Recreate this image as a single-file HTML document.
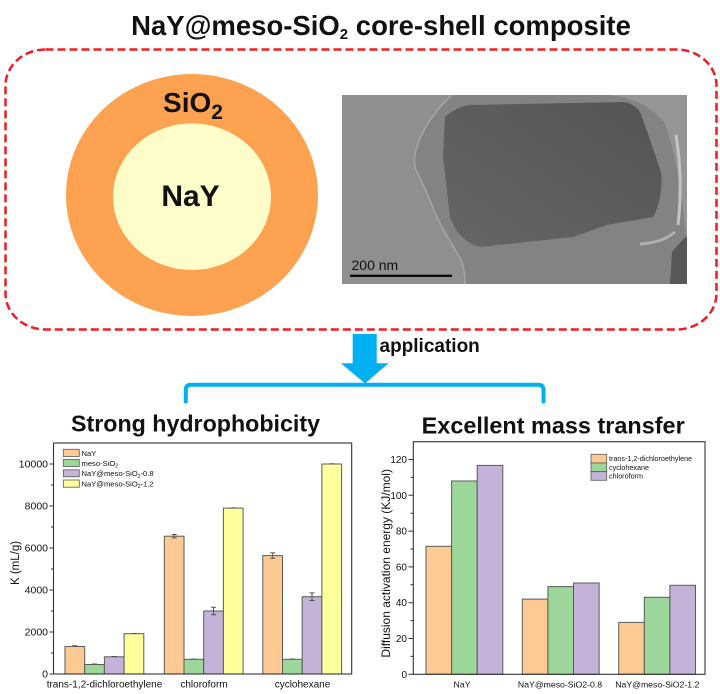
<!DOCTYPE html>
<html><head><meta charset="utf-8"><style>
html,body{margin:0;padding:0;background:#fff;}
svg{display:block;}
text{font-family:"Liberation Sans",Arial,sans-serif;fill:#111;}
</style></head><body>
<svg width="720" height="694" viewBox="0 0 720 694" xmlns="http://www.w3.org/2000/svg">
<defs>
<clipPath id="tc"><rect x="342" y="95" width="345" height="189"/></clipPath>
<linearGradient id="cg" x1="0" y1="1" x2="1" y2="0">
<stop offset="0" stop-color="#666"/><stop offset="1" stop-color="#545454"/>
</linearGradient>
</defs>
<rect width="720" height="694" fill="#fff"/>

<!-- Title -->
<text x="381" y="35" font-size="27.5" font-weight="bold" text-anchor="middle">NaY@meso-SiO<tspan font-size="15" dy="4">2</tspan><tspan dy="-4"> core-shell composite</tspan></text>

<!-- dashed frame -->
<rect x="5.5" y="49.5" width="711" height="280" rx="40" ry="36" fill="none" stroke="#ee1c24" stroke-width="2.5" stroke-dasharray="8 4"/>

<!-- core-shell -->
<ellipse cx="192" cy="195" rx="126" ry="121" fill="#fca251"/>
<ellipse cx="192" cy="196.7" rx="79" ry="73.3" fill="#fefdc9"/>
<text x="193" y="112" font-size="28" font-weight="bold" text-anchor="middle">SiO<tspan font-size="21" dy="7">2</tspan></text>
<text x="190.5" y="206" font-size="30" font-weight="bold" text-anchor="middle">NaY</text>

<!-- TEM -->
<g clip-path="url(#tc)">
<rect x="342" y="95" width="345" height="189" fill="#8f8f8f"/>
<path d="M452,95 C444,102 432,115 423,132 C416,146 412,160 416,170 C422,182 428,195 433,208 C440,226 452,244 460,258 C464,266 465,275 465,284 L687,284 L687,95 Z" fill="#838383"/>
<path d="M610,95 L687,95 L687,245 C683,200 676,150 664,122 C650,105 632,98 610,95 Z" fill="#959595"/>
<path d="M445,117 C455,108 465,105 473,105 L623,102 C632,103 638,108 641,114 L661,172 C663,190 658,210 653,217 L607,225 L573,237 L480,247 C465,243 455,232 450,217 L443,157 Z" fill="url(#cg)"/>
<path d="M676,135 C680,160 682,190 678,225" fill="none" stroke="#c4c4c4" stroke-width="3"/>
<path d="M640,244 C655,243 665,240 675,232" fill="none" stroke="#b0b0b0" stroke-width="3"/>
<path d="M672,252 C677,246 682,240 687,236 L687,284 L670,284 Z" fill="#585858"/>
<path d="M452,95 C444,102 432,115 423,132 C416,146 412,160 416,170 C422,182 428,195 433,208 C440,226 452,244 460,258 C464,266 465,275 465,284" fill="none" stroke="#a6a6a6" stroke-width="1.5"/>
<text x="351.5" y="270" font-size="14" fill="#000">200 nm</text>
<rect x="350" y="274.7" width="102" height="2.2" fill="#000"/>
</g>

<!-- arrow + bracket -->
<rect x="352.7" y="334" width="24" height="30" fill="#00b0f0"/>
<polygon points="341,363.3 388.5,363.3 365,383.5" fill="#00b0f0"/>
<text x="379.5" y="352" font-size="19" font-weight="bold">application</text>
<path d="M185.8,401.5 V390 Q185.8,384.7 191,384.7 H538.3 Q543.5,384.7 543.5,390 V401.5" fill="none" stroke="#00b0f0" stroke-width="4" stroke-linecap="round"/>

<!-- subtitles -->
<text x="71" y="431.7" font-size="23" font-weight="bold" textLength="249" lengthAdjust="spacingAndGlyphs">Strong hydrophobicity</text>
<text x="421.7" y="433.3" font-size="23" font-weight="bold" textLength="263" lengthAdjust="spacingAndGlyphs">Excellent mass transfer</text>

<!-- LEFT CHART -->
<g stroke="#5a5a5a" stroke-width="1">
<!-- group 1 -->
<rect x="65" y="646.5" width="19.7" height="27.5" fill="#fdca93"/>
<rect x="84.7" y="664.5" width="19.7" height="9.5" fill="#9dd69b"/>
<rect x="104.4" y="656.8" width="19.7" height="17.2" fill="#c5b2d8"/>
<rect x="124.1" y="633.7" width="19.7" height="40.3" fill="#ffff9e"/>
<!-- group 2 -->
<rect x="164.3" y="536.2" width="19.7" height="137.8" fill="#fdca93"/>
<rect x="184" y="659.3" width="19.7" height="14.7" fill="#9dd69b"/>
<rect x="203.7" y="611" width="19.7" height="63" fill="#c5b2d8"/>
<rect x="223.4" y="508.1" width="19.7" height="165.9" fill="#ffff9e"/>
<!-- group 3 -->
<rect x="262.8" y="555.6" width="19.7" height="118.4" fill="#fdca93"/>
<rect x="282.5" y="659.3" width="19.7" height="14.7" fill="#9dd69b"/>
<rect x="302.2" y="596.7" width="19.7" height="77.3" fill="#c5b2d8"/>
<rect x="321.9" y="464" width="19.7" height="210" fill="#ffff9e"/>
</g>
<!-- error bars -->
<g stroke="#555" stroke-width="1" fill="none">
<path d="M72.3,645.7 h5 M92,664 h5 M111.8,656.5 h5 M131.5,633.5 h5"/>
<path d="M174.2,534.5 v3.4 M171.7,534.5 h5 M171.7,537.9 h5"/>
<path d="M191.3,659 h5 M231,507.9 h5"/>
<path d="M213.5,607.2 v7.6 M211,607.2 h5 M211,614.8 h5"/>
<path d="M272.7,552.9 v5.4 M270.2,552.9 h5 M270.2,558.3 h5"/>
<path d="M289.8,659 h5 M329.3,463.8 h5"/>
<path d="M312,592.9 v7.6 M309.5,592.9 h5 M309.5,600.5 h5"/>
</g>
<!-- frame -->
<rect x="53.5" y="443" width="298.2" height="231" fill="none" stroke="#333" stroke-width="1.1"/>
<g stroke="#333" stroke-width="1">
<path d="M49.5,674 h4 M49.5,632 h4 M49.5,590 h4 M49.5,548 h4 M49.5,506 h4 M49.5,464 h4"/>
<path d="M51,653 h2.5 M51,611 h2.5 M51,569 h2.5 M51,527 h2.5 M51,485 h2.5"/>
</g>
<g font-size="10.5" text-anchor="end">
<text x="48" y="677.7">0</text>
<text x="48" y="635.7">2000</text>
<text x="48" y="593.7">4000</text>
<text x="48" y="551.7">6000</text>
<text x="48" y="509.7">8000</text>
<text x="48" y="467.7">10000</text>
</g>
<text transform="translate(19,563) rotate(-90)" font-size="11.5" text-anchor="middle">K (mL/g)</text>
<g font-size="10" text-anchor="middle">
<text x="104.5" y="687.5">trans-1,2-dichloroethylene</text>
<text x="204" y="687.5">chloroform</text>
<text x="302.5" y="687.5">cyclohexane</text>
</g>
<!-- left legend -->
<g stroke="#5a5a5a" stroke-width="0.8">
<rect x="63.3" y="449.3" width="16" height="7.2" fill="#fdca93"/>
<rect x="63.3" y="459.5" width="16" height="7" fill="#9dd69b"/>
<rect x="63.3" y="469.8" width="16" height="7" fill="#c5b2d8"/>
<rect x="63.3" y="480" width="16" height="7.2" fill="#ffff9e"/>
</g>
<g font-size="7.6">
<text x="81.5" y="455.8">NaY</text>
<text x="81.5" y="465.8">meso-SiO<tspan font-size="5" dy="1.8">2</tspan></text>
<text x="81.5" y="476.1">NaY@meso-SiO<tspan font-size="5" dy="1.8">2</tspan><tspan dy="-1.8">-0.8</tspan></text>
<text x="81.5" y="486.4">NaY@meso-SiO<tspan font-size="5" dy="1.8">2</tspan><tspan dy="-1.8">-1.2</tspan></text>
</g>

<!-- RIGHT CHART -->
<g stroke="#5a5a5a" stroke-width="1">
<rect x="426" y="546.3" width="25.6" height="128" fill="#fdca93"/>
<rect x="451.6" y="481" width="25.6" height="193.3" fill="#9dd69b"/>
<rect x="477.2" y="465.4" width="25.6" height="208.9" fill="#c5b2d8"/>
<rect x="522.3" y="599.1" width="25.6" height="75.2" fill="#fdca93"/>
<rect x="547.9" y="586.6" width="25.6" height="87.7" fill="#9dd69b"/>
<rect x="573.5" y="583" width="25.6" height="91.3" fill="#c5b2d8"/>
<rect x="618.7" y="622.4" width="25.6" height="51.9" fill="#fdca93"/>
<rect x="644.3" y="597.3" width="25.6" height="77" fill="#9dd69b"/>
<rect x="669.9" y="585.3" width="25.6" height="89" fill="#c5b2d8"/>
</g>
<rect x="413.3" y="441.7" width="291.7" height="232.6" fill="none" stroke="#333" stroke-width="1.1"/>
<g stroke="#333" stroke-width="1">
<path d="M408.5,674.3 h4.8 M408.5,638.5 h4.8 M408.5,602.7 h4.8 M408.5,566.9 h4.8 M408.5,531.1 h4.8 M408.5,495.3 h4.8 M408.5,459.5 h4.8"/>
<path d="M410.5,656.4 h2.8 M410.5,620.6 h2.8 M410.5,584.8 h2.8 M410.5,549 h2.8 M410.5,513.2 h2.8 M410.5,477.4 h2.8"/>
</g>
<g font-size="10" text-anchor="end">
<text x="407" y="677.8">0</text>
<text x="407" y="642">20</text>
<text x="407" y="606.2">40</text>
<text x="407" y="570.4">60</text>
<text x="407" y="534.6">80</text>
<text x="407" y="498.8">100</text>
<text x="407" y="463">120</text>
</g>
<text transform="translate(390,563.3) rotate(-90)" font-size="12" text-anchor="middle">Diffusion activation energy (KJ/mol)</text>
<g font-size="8.7" text-anchor="middle">
<text x="462" y="687.3">NaY</text>
<text x="560" y="687.3">NaY@meso-SiO2-0.8</text>
<text x="657.3" y="687.3">NaY@meso-SiO2-1.2</text>
</g>
<!-- right legend -->
<g stroke="#5a5a5a" stroke-width="0.8">
<rect x="591" y="454.3" width="15.7" height="8.7" fill="#fdca93"/>
<rect x="591" y="463" width="15.7" height="8.7" fill="#9dd69b"/>
<rect x="591" y="471.7" width="15.7" height="8.6" fill="#c5b2d8"/>
</g>
<g font-size="7.2">
<text x="609" y="461.2">trans-1,2-dichloroethylene</text>
<text x="609" y="469.8">cyclohexane</text>
<text x="609" y="478.5">chloroform</text>
</g>
</svg>
</body></html>
